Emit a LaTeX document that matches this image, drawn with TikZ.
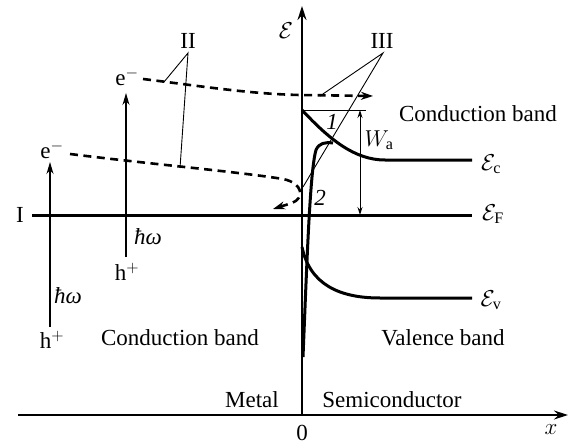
\RequirePackage{fix-cm}
\documentclass[tikz,border=0pt]{standalone}
\usepackage{fontspec}
\setmainfont{Liberation Serif}
\usetikzlibrary{arrows.meta}
\begin{document}
\begin{tikzpicture}[x=1pt,y=-1pt,
  lbl/.style={inner sep=0pt, font=\fontsize{23}{27}\selectfont},
  axis/.style={line width=1.3pt, -{Stealth[length=14pt,width=9pt]}},
  photon/.style={line width=1.3pt, -{Stealth[length=12pt,width=7pt]}},
  band/.style={line width=3pt},
  thinline/.style={line width=0.9pt},
  dashline/.style={line width=2.6pt, dash pattern=on 8pt off 5.5pt},
  ]
\useasboundingbox (0,0) rectangle (579,444);
% axes
\coordinate (ax0) at (302,415);
\coordinate (axtop) at (302,6);
\coordinate (xleft) at (18,415);
\coordinate (xright) at (568,415);
\draw[axis] (ax0) -- (axtop);
\draw[axis] (xleft) -- (xright);
\node[lbl] (eps) at (286,31) {$\mathcal{E}$};
\node[lbl] (zero) at (302,433) {0};
\node[lbl] (xl) at (551,430) {$x$};
% Fermi level
\coordinate (fl) at (32,215);
\coordinate (fr) at (472,215);
\draw[band] (fl) -- (fr);
\node[lbl] (I) at (20,215) {I};
\node[lbl] (EF) at (493,214) {$\mathcal{E}_{\mathrm{F}}$};
% conduction band edge
\coordinate (c0) at (302,110);
\coordinate (c1) at (385,160);
\coordinate (cr) at (472,160);
\draw[band] (c0) .. controls (330,140) and (355,160) .. (c1) -- (cr);
\node[lbl] (Ec) at (491,164) {$\mathcal{E}_{\mathrm{c}}$};
% valence band edge
\coordinate (v0) at (302,247);
\coordinate (v1) at (380,298);
\coordinate (vr) at (472,298);
\draw[band] (v0) .. controls (310,285) and (340,298) .. (v1) -- (vr);
\node[lbl] (Ev) at (491,300) {$\mathcal{E}_{\mathrm{v}}$};
% curve 2
\coordinate (k0) at (303,357);
\coordinate (k1) at (316,150);
\coordinate (k2) at (333,143);
\draw[band] (k0) .. controls (307,260) and (310,170) .. (k1) .. controls (319,143) and (325,142) .. (k2);
% barrier top line and W_a
\coordinate (h0) at (302,110);
\coordinate (h1) at (366,110);
\draw[thinline] (h0) -- (h1);
\coordinate (w0) at (360,110);
\coordinate (w1) at (360,215);
\draw[thinline, {Stealth[length=8pt,width=5pt]}-{Stealth[length=8pt,width=5pt]}] (w0) -- (w1);
\node[lbl] (Wa) at (379,140) {$W_{\mathrm{a}}$};
\node[lbl] (one) at (332,122) {\textit{1}};
\node[lbl] (two) at (320,198) {\textit{2}};
% photons
\node[lbl] (e1) at (127,77) {e$^{-}$};
\node[lbl] (h1l) at (127,272) {h$^{+}$};
\coordinate (p1b) at (126,257);
\coordinate (p1t) at (126,93);
\draw[photon] (p1b) -- (p1t);
\node[lbl] (hw1) at (148,237) {\textit{ħω}};
\node[lbl] (e2) at (52,150) {e$^{-}$};
\node[lbl] (h2l) at (52,340) {h$^{+}$};
\coordinate (p2b) at (50,327);
\coordinate (p2t) at (50,162);
\draw[photon] (p2b) -- (p2t);
\node[lbl] (hw2) at (68,296) {\textit{ħω}};
% dashed electron paths
\coordinate (d1s) at (143,79);
\coordinate (d1m) at (300,95);
\coordinate (d1e) at (373,96);
\draw[dashline, -{Stealth[length=12pt,width=8pt]}] (d1s) .. controls (200,86) and (250,94) .. (d1m) -- (d1e);
\coordinate (d2s) at (70,154);
\coordinate (d2m) at (283,179);
\coordinate (d2n) at (292,203);
\coordinate (d2e) at (273,209);
\draw[dashline, -{Stealth[length=12pt,width=8pt]}] (d2s) .. controls (150,164) and (240,172) .. (d2m) .. controls (303,183) and (305,198) .. (d2n) -- (d2e);
% leaders II
\node[lbl] (II) at (188,41) {II};
\coordinate (IIt) at (188,53);
\coordinate (IIa) at (164,82);
\coordinate (IIb) at (180,168);
\draw[thinline] (IIa) -- (IIt) -- (IIb);
% leaders III
\node[lbl] (III) at (382,41) {III};
\coordinate (IIIt) at (383,53);
\coordinate (IIIa) at (320,96);
\coordinate (IIIb) at (303,187);
\draw[thinline] (IIIa) -- (IIIt) -- (IIIb);
% text labels
\node[lbl] (cbr) at (478,114) {Conduction band};
\node[lbl] (cbl) at (180,338) {Conduction band};
\node[lbl] (vb) at (443,338) {Valence band};
\node[lbl] (metal) at (252,400) {Metal};
\node[lbl] (semi) at (392,400) {Semiconductor};
\end{tikzpicture}
\end{document}
